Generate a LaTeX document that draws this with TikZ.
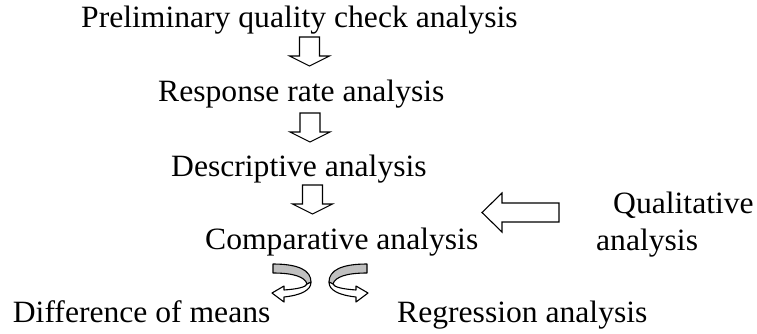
\documentclass[tikz,border=0pt]{standalone}
\usepackage{fontspec}
\setmainfont[FakeStretch=1.02]{Liberation Serif}
\definecolor{bandgray}{RGB}{192,192,192}
\tikzset{
  lbl/.style={anchor=base west, inner sep=0pt, font=\fontsize{31}{37}\selectfont},
  blockarrow/.style={draw=black, fill=white, line width=1.1pt, line join=miter},
  bandpart/.style={draw=black, fill=bandgray, line width=1.1pt, line join=round},
  pics/downarrow/.style={code={
    \draw[blockarrow] (-10,0) -- (10,0) -- (10,19) -- (20,19) -- (0,29) -- (-20,19) -- (-10,19) -- cycle;
  }},
  pics/curvedarrow/.style={code={
    \draw[bandpart] (-47,0) .. controls (-22,0) and (-9,6) .. (-9,18)
      -- (-13,20) .. controls (-15,13) and (-26,9) .. (-47,9) -- cycle;
    \draw[blockarrow, line join=round] (-9,18) .. controls (-9,26) and (-18,31) .. (-36,33)
      -- (-36,38) -- (-48,29) -- (-36,22) -- (-36,26)
      .. controls (-22,25) and (-14,23) .. (-13,20) -- cycle;
  }},
}
\begin{document}
\begin{tikzpicture}[x=1pt,y=-1pt]
\useasboundingbox (0,0) rectangle (757,333);
\node[lbl] (pre)  at (81,27.5)  {Preliminary quality check analysis};
\node[lbl] (resp) at (158,101) {Response rate analysis};
\node[lbl] (desc) at (171,176.5)  {Descriptive analysis};
\node[lbl] (comp) at (205,249)  {Comparative analysis};
\node[lbl] (qualA) at (613,213) {Qualitative};
\node[lbl] (qualB) at (596,250) {analysis};
\node[lbl] (diff) at (12.7,322) {Difference of means};
\node[lbl] (reg)  at (397,322)  {Regression analysis};
% down block arrows
\pic at (309.5,37) {downarrow};
\pic at (310,113) {downarrow};
\pic at (312.5,185) {downarrow};
% left block arrow from qualitative to comparative
\draw[blockarrow] (482,212.5) -- (502,193) -- (502,203) -- (559,203) -- (559,222)
  -- (502,222) -- (502,232) -- cycle;
% curved arrows
\pic at (320,264) {curvedarrow};
\pic[xscale=-1] at (320,264) {curvedarrow};
\end{tikzpicture}
\end{document}
